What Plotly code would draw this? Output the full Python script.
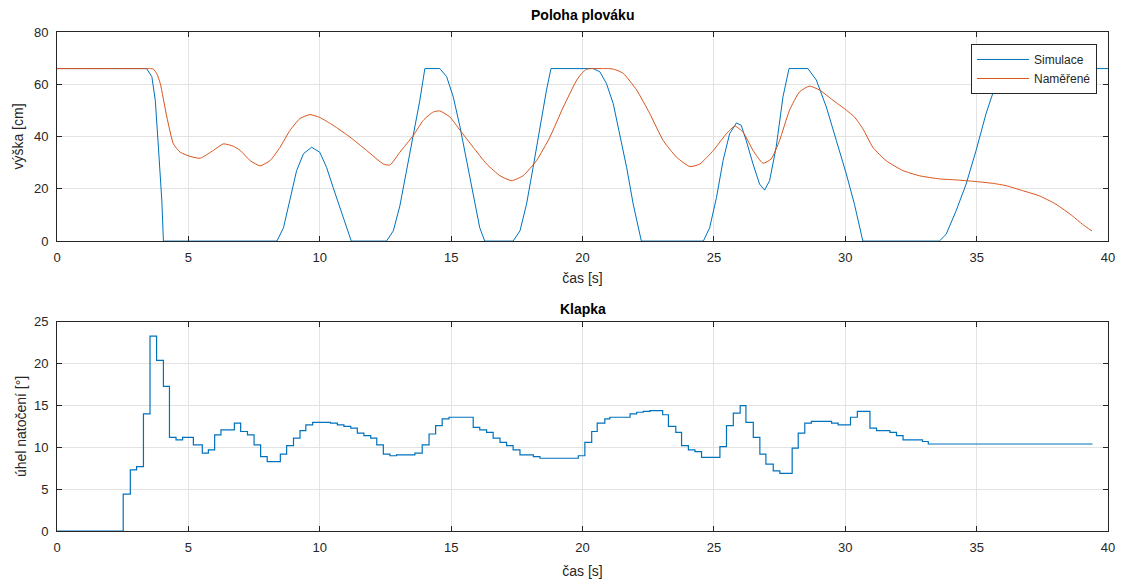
import plotly.graph_objects as go

# ---- data: top plot (Poloha plováku) ----
sim_t = [0, 3.41, 3.61, 3.74, 3.86, 3.99, 4.05, 8.37, 8.62, 8.87, 9.12, 9.38, 9.69, 10.0, 10.26, 10.51, 10.89, 11.2,
         12.54, 12.8, 13.05, 13.31, 13.56, 13.81, 14.0, 14.57, 14.83, 15.08, 15.34, 15.59, 15.84, 16.09, 16.28,
         17.36, 17.62, 17.87, 18.12, 18.38, 18.63, 18.8, 20.4, 20.66, 20.91, 21.17, 21.42, 21.68, 21.93, 22.24,
         24.6, 24.84, 25.1, 25.35, 25.6, 25.86, 26.04, 26.23, 26.49, 26.74, 26.93, 27.12, 27.37, 27.63, 27.86,
         28.58, 28.9, 29.28, 29.66, 30.04, 30.35, 30.67, 33.58, 33.84, 34.22, 34.6, 34.98, 35.36, 35.74, 36.05, 40]
sim_v = [66, 66, 62.9, 53.9, 35.9, 15.4, 0, 0, 5.1, 16.7, 27.0, 33.4, 35.9, 34.0, 28.2, 20.5, 9.0, 0,
         0, 3.9, 13.5, 27.0, 41.1, 53.9, 66, 66, 62.9, 55.2, 43.6, 30.8, 16.7, 5.1, 0,
         0, 3.9, 14.1, 28.2, 43.6, 57.8, 66, 66, 64.8, 60.3, 52.6, 41.1, 28.2, 14.1, 0,
         0, 5.1, 16.7, 30.8, 41.1, 45.2, 44.3, 38.5, 29.5, 21.8, 19.5, 23.1, 35.9, 55.2, 66,
         66, 61.6, 51.3, 38.5, 25.7, 14.1, 0, 0, 2.6, 11.6, 21.8, 34.7, 48.8, 60.3, 66, 66]

meas_t = [0, 3.0, 3.4, 3.55, 3.67, 3.8, 3.93, 4.18, 4.43, 4.69, 5.07, 5.45, 5.95, 6.33, 6.71, 6.97, 7.35, 7.73, 8.11,
          8.49, 8.87, 9.25, 9.63, 10.0, 10.51, 11.15, 11.78, 12.42, 12.67, 13.05, 13.56, 13.94, 14.32, 14.57, 14.95,
          15.34, 15.84, 16.35, 16.86, 17.3, 17.74, 18.25, 18.76, 19.27, 19.78, 20.0, 20.15, 20.3, 20.8, 21.0, 21.17,
          21.35, 21.55, 22.06, 22.56, 23.07, 23.58, 24.09, 24.47, 24.98, 25.48, 25.8, 26.11, 26.49, 26.87, 27.18,
          27.5, 27.88, 28.26, 28.64, 29.02, 29.53, 30.04, 30.35, 30.67, 31.05, 31.55, 32.19, 32.82, 33.58, 34.22,
          34.85, 35.61, 36.12, 36.75, 37.39, 38.02, 38.65, 39.03, 39.39]
meas_v = [66, 66, 66, 66, 65.8, 64.0, 60.3, 47.5, 37.2, 34.0, 32.4, 31.7, 34.7, 37.2, 36.3, 34.7, 30.8, 28.8, 30.8,
          35.9, 42.4, 46.9, 48.4, 47.3, 44.3, 39.8, 34.7, 29.5, 29.1, 34.0, 40.4, 46.2, 49.4, 49.8, 47.5,
          42.4, 35.9, 29.5, 25.0, 23.1, 25.0, 30.8, 39.8, 51.3, 61.6, 64.5, 65.7, 66, 66, 66, 65.8,
          65.2, 64.2, 57.8, 48.8, 38.5, 32.1, 28.5, 29.5, 34.7, 41.1, 44.0, 41.7, 34.7, 29.8, 31.4,
          38.5, 50.1, 57.1, 59.3, 57.8, 53.9, 50.1, 47.5, 43.0, 35.9, 30.8, 27.0, 25.0, 23.8, 23.4,
          22.9, 22.1, 21.2, 19.3, 17.3, 14.1, 9.6, 6.4, 3.9]

# ---- data: bottom plot (Klapka), step changes ----
flap_t = [0, 2.52, 2.79, 3.03, 3.29, 3.54, 3.79, 4.05, 4.28, 4.53, 4.78, 5.19, 5.53, 5.76, 6.0, 6.24, 6.75, 6.99,
          7.25, 7.5, 7.75, 8.0, 8.5, 8.74, 9.0, 9.25, 9.47, 9.73, 10.41, 10.67, 10.92, 11.18, 11.43, 11.68, 11.94,
          12.17, 12.42, 12.67, 12.92, 13.62, 13.90, 14.16, 14.41, 14.66, 14.92, 15.84, 16.09, 16.35, 16.60, 16.86,
          17.11, 17.36, 17.62, 18.13, 18.38, 19.84, 20.09, 20.35, 20.56, 20.85, 21.04, 21.81, 22.06, 22.31, 22.57,
          23.05, 23.27, 23.55, 23.77, 24.03, 24.28, 24.53, 25.23, 25.48, 25.74, 26.0, 26.22, 26.5, 26.75, 26.98,
          27.26, 27.51, 27.98, 28.21, 28.46, 28.71, 29.48, 29.73, 30.2, 30.46, 30.94, 31.19, 31.7, 31.95, 32.2,
          32.94, 33.16, 39.41]
flap_v = [0, 4.4, 7.3, 7.7, 14.0, 23.3, 20.4, 17.3, 11.2, 10.9, 11.2, 10.3, 9.3, 9.7, 11.5, 12.1, 12.9, 11.9,
          11.5, 10.3, 8.9, 8.3, 9.2, 10.2, 11.1, 12.0, 12.7, 13.0, 12.9, 12.7, 12.5, 12.3, 11.7, 11.4, 11.1,
          10.3, 9.2, 9.0, 9.1, 9.3, 10.3, 11.6, 12.6, 13.4, 13.6, 12.4, 12.1, 11.8, 11.1, 10.6,
          10.2, 9.7, 9.1, 8.9, 8.7, 9.0, 10.6, 11.9, 12.9, 13.4, 13.6, 14.0, 14.2, 14.3, 14.4,
          13.9, 12.5, 11.8, 10.2, 9.7, 9.5, 8.8, 10.1, 12.6, 14.1, 15.0, 13.0, 11.2, 9.2, 8.0,
          7.2, 6.9, 9.9, 11.7, 12.9, 13.1, 12.9, 12.7, 13.6, 14.3, 12.3, 12.0, 11.8, 11.4, 10.9,
          10.7, 10.4, 10.4]

x_ticks = [0, 5, 10, 15, 20, 25, 30, 35, 40]
y1_ticks = [0, 20, 40, 60, 80]
y2_ticks = [0, 5, 10, 15, 20, 25]

BLUE = "#0072BD"
ORANGE = "#D95319"
AX = "#262626"
GRID = "#e3e3e3"
FONT = "Liberation Sans, Arial, sans-serif"

fig = go.Figure()
fig.add_trace(go.Scatter(x=sim_t, y=sim_v, mode="lines", name="Simulace",
                         line=dict(color=BLUE, width=1), xaxis="x", yaxis="y"))
fig.add_trace(go.Scatter(x=meas_t, y=meas_v, mode="lines", name="Naměřené",
                         line=dict(color=ORANGE, width=1, shape="spline", smoothing=0.5), xaxis="x", yaxis="y"))
fig.add_trace(go.Scatter(x=flap_t, y=flap_v, mode="lines", showlegend=False,
                         line=dict(color=BLUE, width=1.2, shape="hv"), xaxis="x2", yaxis="y2"))

axis_common = dict(showline=True, linecolor=AX, linewidth=1, mirror="ticks", ticks="inside",
                   ticklen=5, tickcolor=AX, showgrid=True, gridcolor=GRID, gridwidth=1,
                   zeroline=False, automargin=False, tickfont=dict(family=FONT, size=13, color=AX))
xfmt = dict(ticklabelstandoff=4, **axis_common)
yfmt = dict(ticklabelstandoff=5, **axis_common)
title_font = dict(family=FONT, size=14, color=AX)

fig.update_layout(
    width=1122, height=576,
    margin=dict(l=49, r=22, t=24, b=53),
    paper_bgcolor="white", plot_bgcolor="white",
    font=dict(family=FONT, size=13, color=AX),
    xaxis=dict(domain=[0, 1], range=[0, 40], tickvals=x_ticks, anchor="y",
               title=dict(text="čas [s]", standoff=9, font=title_font), **xfmt),
    yaxis=dict(domain=[0.581, 1], range=[0, 80], tickvals=y1_ticks, anchor="x",
               title=dict(text="výška [cm]", standoff=7, font=title_font), **yfmt),
    xaxis2=dict(domain=[0, 1], range=[0, 40], tickvals=x_ticks, anchor="y2",
                title=dict(text="čas [s]", standoff=12, font=title_font), **xfmt),
    yaxis2=dict(domain=[0, 0.419], range=[0, 25], tickvals=y2_ticks, anchor="x2",
                title=dict(text="úhel natočení [°]", standoff=4, font=title_font), **yfmt),
    legend=dict(x=0.9895, y=0.976, xanchor="right", yanchor="top", bgcolor="white",
                bordercolor="#262626", borderwidth=1, font=dict(family=FONT, size=12, color=AX),
                tracegroupgap=0, itemwidth=52),
    showlegend=True,
    annotations=[
        dict(text="<b>Poloha plováku</b>", x=0.5, y=1, xref="paper", yref="paper", xanchor="center",
             yanchor="bottom", yshift=7, showarrow=False, font=dict(family=FONT, size=14, color="black")),
        dict(text="<b>Klapka</b>", x=0.5, y=0.419, xref="paper", yref="paper", xanchor="center",
             yanchor="bottom", yshift=3, showarrow=False, font=dict(family=FONT, size=14, color="black")),
    ],
)

fig.write_html("out.html")
